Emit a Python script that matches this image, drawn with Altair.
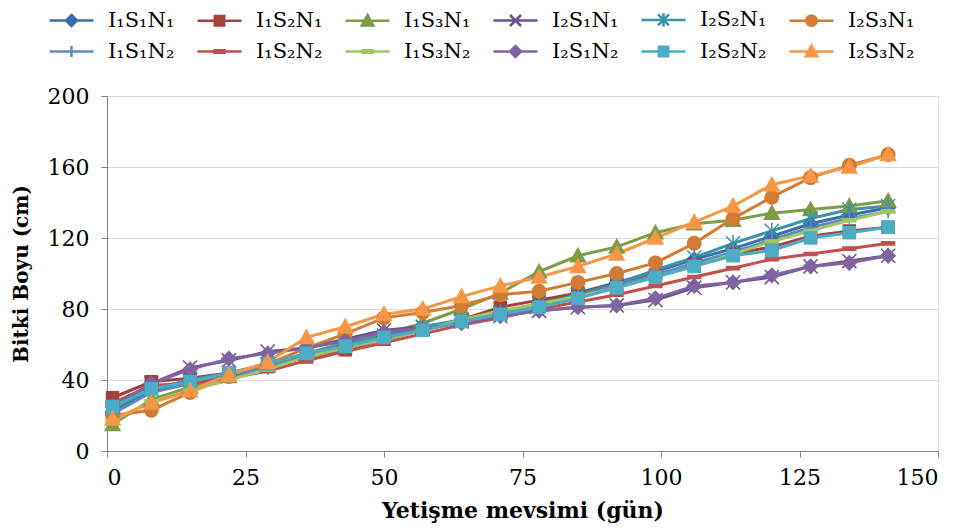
import altair as alt
import pandas as pd

days = [1, 8, 15, 22, 29, 36, 43, 50, 57, 64, 71, 78, 85, 92, 99, 106, 113, 120, 127, 134, 141]

series_names = ["I₁S₁N₁", "I₁S₂N₁", "I₁S₃N₁", "I₂S₁N₁", "I₂S₂N₁", "I₂S₃N₁",
                "I₁S₁N₂", "I₁S₂N₂", "I₁S₃N₂", "I₂S₁N₂", "I₂S₂N₂", "I₂S₃N₂"]

I1S1N1 = [22, 34, 39, 43, 48, 54, 59, 64, 69, 74, 78, 83, 89, 95, 101, 108, 114, 121, 128, 133, 137]
I1S2N1 = [30, 39, 41, 44, 48, 53, 57, 63, 68, 74, 81, 85, 89, 94, 99, 105, 111, 115, 121, 124, 126]
I1S3N1 = [15, 29, 36, 42, 48, 55, 61, 66, 72, 80, 89, 101, 110, 115, 123, 128, 130, 134, 136, 138, 141]
I2S1N1 = [24, 38, 47, 51, 56, 58, 63, 68, 70, 73, 76, 79, 81, 82, 85, 92, 95, 98, 104, 107, 110]
I2S2N1 = [24, 35, 40, 44, 49, 55, 60, 65, 70, 74, 78, 83, 88, 94, 102, 109, 117, 124, 131, 136, 138]
I2S3N1 = [20, 23, 33, 42, 49, 58, 66, 75, 78, 82, 88, 90, 95, 100, 106, 117, 131, 143, 154, 161, 167]
I1S1N2 = [21, 33, 38, 42, 47, 53, 58, 63, 68, 73, 77, 82, 87, 93, 99, 106, 112, 119, 126, 131, 135]
I1S2N2 = [27, 37, 38, 41, 45, 51, 56, 61, 66, 71, 75, 80, 84, 88, 93, 98, 103, 108, 111, 114, 117]
I1S3N2 = [17, 28, 34, 40, 46, 53, 58, 63, 68, 74, 79, 83, 87, 92, 98, 104, 111, 118, 124, 130, 135]
I2S1N2 = [25, 38, 46, 52, 55, 58, 62, 67, 69, 72, 76, 79, 81, 82, 86, 93, 95, 99, 104, 106, 110]
I2S2N2 = [25, 35, 39, 44, 49, 55, 59, 64, 68, 73, 77, 81, 86, 92, 98, 104, 110, 113, 120, 123, 126]
I2S3N2 = [18, 27, 34, 43, 50, 64, 70, 77, 80, 87, 93, 98, 104, 111, 120, 129, 138, 150, 155, 160, 167]

series_values = [I1S1N1, I1S2N1, I1S3N1, I2S1N1, I2S2N1, I2S3N1,
                 I1S1N2, I1S2N2, I1S3N2, I2S1N2, I2S2N2, I2S3N2]

colors = ["#3D6CA9", "#A3403D", "#7E9C45", "#6A5189", "#3A93A8", "#D17C36",
          "#5A8AC6", "#C0504D", "#A2C563", "#8064A2", "#4BACC6", "#F79646"]

x_ticks = [0, 25, 50, 75, 100, 125, 150]
y_ticks = [0, 40, 80, 120, 160, 200]

# marker geometry (unit coordinates), optionally shifted horizontally by dx
def P(pts, dx=0.0, close=True):
    return "M" + "L".join(f"{round(x + dx, 4):g},{round(y, 4):g}" for x, y in pts) + ("Z" if close else "")

def markers(k, dx=0.0):
    diamond = P([(0, -k), (k, 0), (0, k), (-k, 0)], dx)
    square = P([(-0.85 * k, -0.85 * k), (0.85 * k, -0.85 * k), (0.85 * k, 0.85 * k), (-0.85 * k, 0.85 * k)], dx)
    tri = P([(0, -1.05 * k), (1.05 * k, 0.85 * k), (-1.05 * k, 0.85 * k)], dx)
    cross_x = P([(-k, -k), (k, k)], dx, False) + P([(-k, k), (k, -k)], dx, False)
    aster = cross_x + P([(0, -1.2 * k), (0, 1.2 * k)], dx, False)
    r = round(0.95 * k, 4)
    circle = (f"M{round(dx + r, 4):g},0A{r:g},{r:g} 0 1,1 {round(dx - r, 4):g},0"
              f"A{r:g},{r:g} 0 1,1 {round(dx + r, 4):g},0Z")
    plus = P([(-k, 0), (k, 0)], dx, False) + P([(0, -k), (0, k)], dx, False)
    dash = P([(-0.9 * k, -0.22 * k), (0.9 * k, -0.22 * k), (0.9 * k, 0.22 * k), (-0.9 * k, 0.22 * k)], dx)
    return [diamond, square, tri, cross_x, aster, circle, plus, dash, dash, diamond, square, tri]

point_shapes = markers(1.0)
# legend symbol: line segment with the marker in its middle (starts at the symbol's left edge)
legend_shapes = ["M-1,0L7.8,0" + m for m in markers(1.1, 3.4)]

rows = []
for name, vals in zip(series_names, series_values):
    for d, v in zip(days, vals):
        rows.append({"series": name, "day": d, "value": v})
df = pd.DataFrame(rows)

names_js = "[" + ",".join(f"'{n}'" for n in series_names) + "]"
paths_js = "[" + ",".join(f"'{p}'" for p in legend_shapes) + "]"
shape_expr = f"{paths_js}[indexof({names_js}, datum.value)]"

legend = alt.Legend(
    orient="none", legendX=-63, legendY=-87, direction="horizontal", columns=6,
    title=None, labelFont="DejaVu Serif", labelFontSize=21, labelColor="black",
    symbolSize=100, labelOffset=43, columnPadding=17, rowPadding=8,
    symbolType={"expr": shape_expr},
    symbolFillColor={"expr": "scale('color', datum.value)"},
    symbolStrokeColor={"expr": "scale('color', datum.value)"},
    symbolStrokeWidth=2.5, symbolOpacity=1,
)

x_enc = alt.X("day:Q", scale=alt.Scale(domain=[0, 150], nice=False),
              axis=alt.Axis(values=x_ticks, title="Yetişme mevsimi (gün)", grid=False,
                            domainColor="#868686", tickColor="#868686", tickSize=6,
                            labelFont="DejaVu Serif", labelFontSize=22, labelColor="black",
                            labelPadding=10, titleFont="DejaVu Serif", titleFontSize=22,
                            titleFontWeight="bold", titleColor="black", titlePadding=12))
y_enc = alt.Y("value:Q", scale=alt.Scale(domain=[0, 200], nice=False),
              axis=alt.Axis(values=y_ticks, title="Bitki Boyu  (cm)", grid=True, gridColor="#D9D9D9",
                            domainColor="#868686", tickColor="#868686", tickSize=6,
                            labelFont="DejaVu Serif", labelFontSize=22, labelColor="black",
                            labelPadding=12, titleFont="DejaVu Serif", titleFontSize=20,
                            titleFontWeight="bold", titleColor="black", titlePadding=16))

base = alt.Chart(df)
lines = base.mark_line(strokeWidth=3).encode(
    x=x_enc, y=y_enc,
    color=alt.Color("series:N", scale=alt.Scale(domain=series_names, range=colors), legend=legend),
    detail="series:N")

point_layers = []
for name, col, shp in zip(series_names, colors, point_shapes):
    point_layers.append(
        base.transform_filter(alt.datum.series == name)
        .mark_point(filled=True, shape=shp, size=200, fill=col, stroke=col,
                    strokeWidth=1.5, opacity=1)
        .encode(x=x_enc, y=y_enc)
    )

chart = alt.layer(lines, *point_layers).properties(
    width=831, height=355,
    autosize=alt.AutoSizeParams(type="none"),
    padding={"left": 99, "top": 88, "right": 20, "bottom": 80},
).configure_view(stroke=None).configure(background="white")

chart.save("out.html", embed_options={"renderer": "svg", "actions": False})
